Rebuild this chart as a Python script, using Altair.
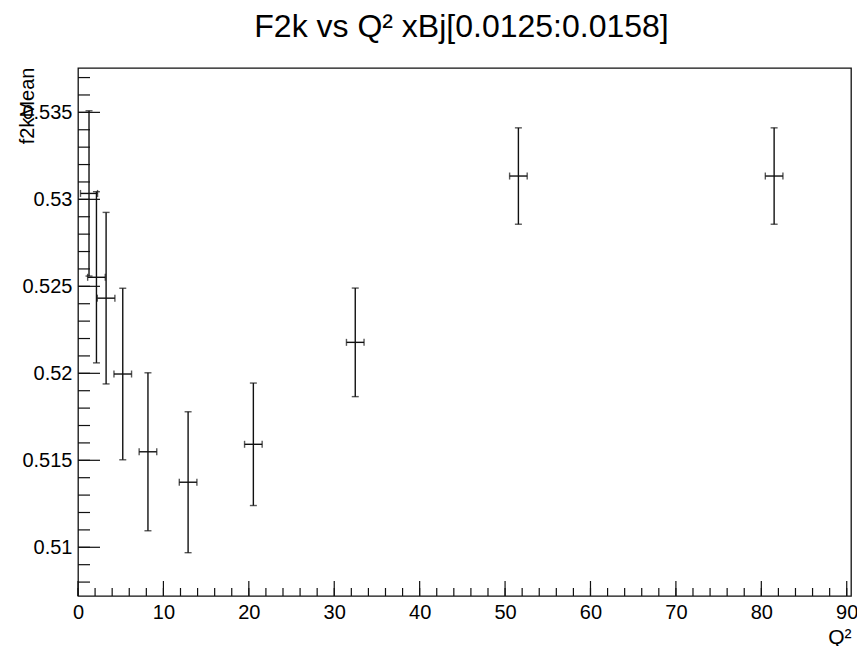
import altair as alt
import pandas as pd
import numpy as np

# ---- data ----
q2 = [1.29, 2.16, 3.29, 5.24, 8.19, 12.89, 20.53, 32.46, 51.56, 81.5]
q2_err = [1.0, 1.03, 1.03, 1.03, 1.03, 1.03, 1.03, 1.03, 1.03, 1.03]
f2k = [0.53034, 0.52552, 0.52432, 0.51996, 0.51549, 0.51374, 0.51592, 0.52178, 0.53134, 0.53134]
f2k_err = [0.00475, 0.00492, 0.00493, 0.00493, 0.00454, 0.00405, 0.00352, 0.00312, 0.00277, 0.00277]

x_major = [0, 10, 20, 30, 40, 50, 60, 70, 80, 90]
y_major = [0.51, 0.515, 0.52, 0.525, 0.53, 0.535]
x_minor = list(np.arange(0, 91, 2))
y_minor = [round(v, 3) for v in np.arange(0.508, 0.5375, 0.001)]

X_DOMAIN = [0, 90.5]
Y_DOMAIN = [0.5072, 0.53755]

W, H = 773, 528
FONT = "Liberation Sans"
INK = "#111111"

df = pd.DataFrame({"q2": q2, "q2_err": q2_err, "f2k": f2k, "f2k_err": f2k_err})
df["xlo"] = df.q2 - df.q2_err
df["xhi"] = df.q2 + df.q2_err
df["ylo"] = df.f2k - df.f2k_err
df["yhi"] = df.f2k + df.f2k_err

xscale = alt.Scale(domain=X_DOMAIN, nice=False, zero=False)
yscale = alt.Scale(domain=Y_DOMAIN, nice=False, zero=False)

xaxis = alt.Axis(values=x_major, format="d", title="Q²", ticks=False, tickSize=0,
                 domain=False, grid=False, labelFont=FONT, labelFontSize=20,
                 labelColor="black", labelPadding=6, labelFlush=False,
                 titleFont=FONT, titleFontSize=21, titleFontWeight="normal",
                 titleColor="black", titleX=W, titleY=47, titleAlign="right",
                 titleBaseline="alphabetic", titleAnchor="end")
yaxis = alt.Axis(values=y_major, format="~g", title="f2kMean", ticks=False, tickSize=0,
                 domain=False, grid=False, labelFont=FONT, labelFontSize=20,
                 labelColor="black", labelPadding=6, labelFlush=False,
                 titleFont=FONT, titleFontSize=20, titleFontWeight="normal",
                 titleColor="black", titleAngle=-90, titleX=-51, titleY=-1,
                 titleAlign="right", titleBaseline="middle", titleAnchor="end")


def X(field):
    return alt.X(field, type="quantitative", scale=xscale, axis=xaxis)


def Y(field):
    return alt.Y(field, type="quantitative", scale=yscale, axis=yaxis)


base = alt.Chart(df)

vbar = base.mark_rule(color=INK, strokeWidth=1.4).encode(
    x=X("q2"), y=Y("ylo"), y2="yhi")
hbar = base.mark_rule(color=INK, strokeWidth=1.4).encode(
    x=X("xlo"), x2="xhi", y=Y("f2k"))
cap_top = base.mark_tick(orient="horizontal", size=7, thickness=1.4, color=INK).encode(
    x=X("q2"), y=Y("yhi"))
cap_bot = base.mark_tick(orient="horizontal", size=7, thickness=1.4, color=INK).encode(
    x=X("q2"), y=Y("ylo"))
cap_l = base.mark_tick(orient="vertical", size=7, thickness=1.4, color=INK).encode(
    x=X("xlo"), y=Y("f2k"))
cap_r = base.mark_tick(orient="vertical", size=7, thickness=1.4, color=INK).encode(
    x=X("xhi"), y=Y("f2k"))

# axis ticks pointing inward (ROOT style)
yt_major = alt.Chart(pd.DataFrame({"f2k": y_major})).mark_rule(color=INK, strokeWidth=1.2).encode(
    y=Y("f2k"), x=alt.value(0), x2=alt.value(22))
yt_minor = alt.Chart(pd.DataFrame({"f2k": y_minor})).mark_rule(color=INK, strokeWidth=1.2).encode(
    y=Y("f2k"), x=alt.value(0), x2=alt.value(12))
xt_major = alt.Chart(pd.DataFrame({"q2": x_major})).mark_rule(color=INK, strokeWidth=1.2).encode(
    x=X("q2"), y=alt.value(H), y2=alt.value(H - 15))
xt_minor = alt.Chart(pd.DataFrame({"q2": x_minor})).mark_rule(color=INK, strokeWidth=1.2).encode(
    x=X("q2"), y=alt.value(H), y2=alt.value(H - 8))

chart = alt.layer(
    yt_minor, yt_major, xt_minor, xt_major,
    vbar, hbar, cap_top, cap_bot, cap_l, cap_r,
).properties(
    width=W, height=H,
    title=alt.TitleParams(text="F2k vs Q² xBj[0.0125:0.0158]", font=FONT, fontSize=32,
                          fontWeight="normal", color="black", anchor="middle",
                          frame="group", baseline="alphabetic", offset=26, dx=-3, dy=28),
    autosize=alt.AutoSizeParams(type="none"),
    padding={"left": 78, "top": 68, "right": 6, "bottom": 50},
).configure(
    background="white"
).configure_view(
    stroke=INK, strokeWidth=1.3
)

chart.save("out.html", embed_options={"renderer": "svg", "actions": False})
